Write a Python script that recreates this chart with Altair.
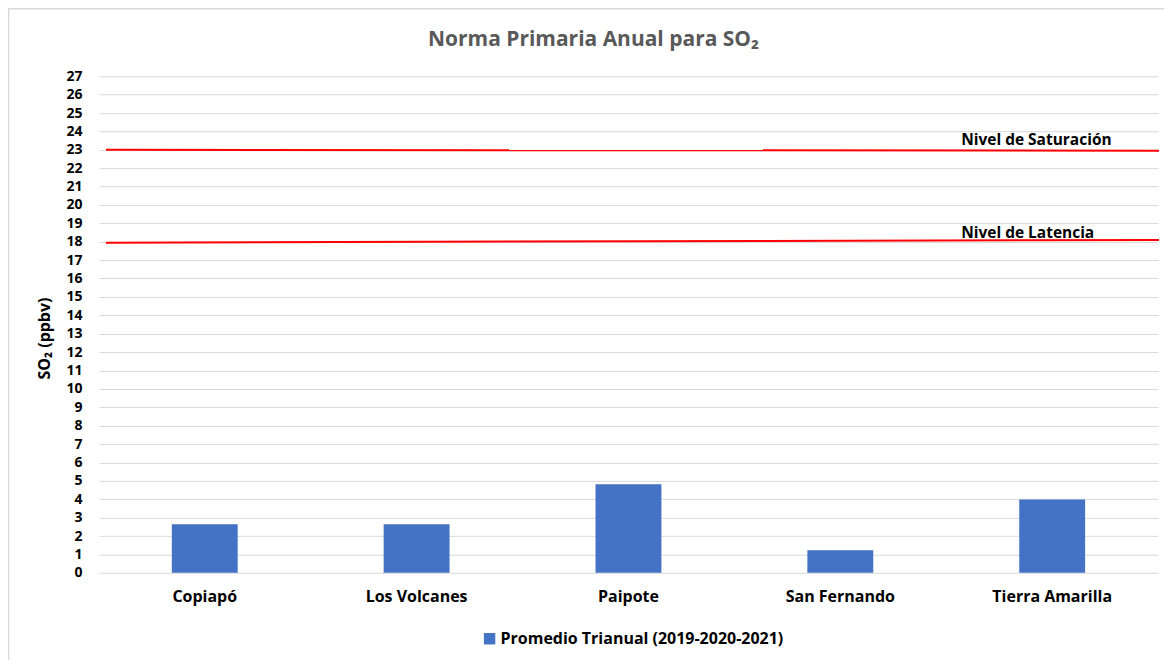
import altair as alt
import pandas as pd

titulo = "Norma Primaria Anual para SO₂"
estaciones = ["Copiapó", "Los Volcanes", "Paipote", "San Fernando", "Tierra Amarilla"]
promedio = [2.64, 2.64, 4.82, 1.22, 3.98]
serie = "Promedio Trianual (2019-2020-2021)"

niveles = ["Nivel de Saturación", "Nivel de Latencia"]
nivel_inicio = [23.0, 17.95]
nivel_fin = [22.95, 18.1]

y_ticks = list(range(0, 28))

FONT = "Open Sans"

df_bars = pd.DataFrame({"estacion": estaciones, "valor": promedio, "serie": [serie] * len(estaciones)})
df_lvl = pd.DataFrame({"nivel": niveles, "valor": nivel_inicio, "valor2": nivel_fin})
df_frame = pd.DataFrame({"a": [0]})
df_title = pd.DataFrame({"t": [titulo]})

W, H = 1060, 497

yscale = alt.Scale(domain=[0, 27], nice=False, zero=True)
yaxis = alt.Axis(title="SO₂ (ppbv)", values=y_ticks, labelFontSize=14,
                 labelFontWeight="bold", labelColor="#000000", labelFont=FONT,
                 labelPadding=17, ticks=False, domain=False,
                 gridColor="#d9d9d9", gridWidth=1,
                 titleFont=FONT, titleFontSize=16, titleFontWeight="bold",
                 titleColor="#000000", titleX=-54, titleY=262,
                 titleAngle=270, titleAlign="center", titleBaseline="middle")

frame = alt.Chart(df_frame).mark_rect(
    fillOpacity=0, stroke="#d9d9d9", strokeWidth=1.5, clip=False
).encode(
    x=alt.value(-90.5), x2=alt.value(1080),
    y=alt.value(-67.5), y2=alt.value(600)
)

title_mark = alt.Chart(df_title).mark_text(
    align="center", baseline="alphabetic", font=FONT, fontSize=21,
    fontWeight="bold", color="#595959"
).encode(x=alt.value(495), y=alt.value(-30), text="t:N")

bars = alt.Chart(df_bars).mark_bar(color="#4472c4").encode(
    x=alt.X("estacion:N", sort=estaciones,
            scale=alt.Scale(paddingInner=0.689, paddingOuter=0.344),
            axis=alt.Axis(title=None, labelAngle=0, labelFontSize=16, labelFontWeight="bold",
                          labelColor="#000000", labelFont=FONT, labelPadding=16,
                          domain=False, ticks=False, grid=False)),
    y=alt.Y("valor:Q", scale=yscale, axis=yaxis),
    color=alt.Color("serie:N", scale=alt.Scale(range=["#4472c4"]),
                    legend=alt.Legend(title=None, orient="none", legendX=383, legendY=555,
                                      symbolType="square", symbolSize=130,
                                      symbolStrokeWidth=0, labelFontSize=16,
                                      labelFontWeight="bold", labelColor="#000000",
                                      labelFont=FONT, labelOffset=3, labelLimit=600))
)

rules = alt.Chart(df_lvl).mark_rule(color="#ff0000", strokeWidth=2).encode(
    x=alt.value(7), x2=alt.value(1061),
    y=alt.Y("valor:Q", scale=yscale, axis=yaxis),
    y2="valor2:Q"
)

labels = alt.Chart(df_lvl).mark_text(
    align="left", baseline="middle", dy=-10, font=FONT, fontSize=15.5,
    fontWeight="bold", color="#000000"
).encode(
    x=alt.value(863),
    y=alt.Y("valor:Q", scale=yscale, axis=yaxis),
    text="nivel:N"
)

chart = alt.layer(frame, title_mark, bars, rules, labels).properties(
    width=W, height=H,
    padding={"left": 91, "top": 68, "right": 6, "bottom": 87},
    autosize=alt.AutoSizeParams(type="none"),
).configure(background="#ffffff").configure_view(stroke=None)

chart.save("out.html", embed_options={"renderer": "svg", "actions": False})
